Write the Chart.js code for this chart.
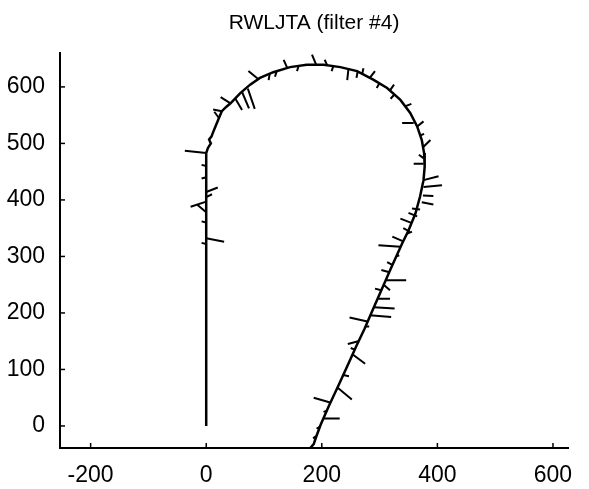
<!DOCTYPE html>
<html>
<head>
<meta charset="utf-8">
<script src="https://cdn.jsdelivr.net/npm/chart.js@4/dist/chart.umd.min.js"></script>
<style>
  html, body { margin: 0; padding: 0; background: #fff; }
  #wrap { width: 589px; height: 489px; }
</style>
</head>
<body>
<div id="wrap"><canvas id="myChart"></canvas></div>
<script>
const chartTitle = 'RWLJTA (filter #4)'
const xTicks = [-200, 0, 200, 400, 600]
const yTicks = [0, 100, 200, 300, 400, 500, 600]

// track of the filter (data units)
const pathX = [0, 0, 3, 8, 5, 9, 12, 16, 22, 27, 35, 42, 59, 76, 93, 116, 145, 174, 203, 232, 261, 289, 313, 336, 353, 365, 373, 377, 378, 376, 370, 362, 350, 339, 321, 303, 288, 274, 260, 245, 229, 212, 198, 190, 186, 180]
const pathY = [0, 483, 492, 500, 507, 512, 520, 530, 545, 557, 565, 571, 589, 604, 616, 626, 635, 639, 639, 635, 628, 613, 598, 577, 554, 530, 506, 483, 459, 435, 406, 376, 346, 323, 282, 240, 205, 172, 142, 108, 72, 35, 2, -20, -32, -39]

// little whiskers: start on the track, end at the tip
const whiskerX = [0, 0, 0, 0, 0, 0, 0, 0, 0, 0,
  27, 22, 42, 50, 62, 72, 91, 110, 122, 140, 160, 190, 209, 220, 246, 262, 270, 283, 300, 318, 326, 345,
  359, 365, 370, 376, 376, 376, 376, 376, 375, 373, 370, 365, 356, 352, 347, 340, 336,
  329, 322, 317, 311, 307, 303, 296, 290, 283, 279, 275, 263, 257, 253, 237, 227, 216, 209, 203, 198, 190]
const whiskerY = [483, 460, 440, 414, 405, 397, 378, 360, 332, 322,
  557, 545, 571, 580, 591, 597, 613, 624, 628, 634, 637, 640, 639, 637, 631, 627, 623, 616, 607, 594, 587, 566,
  536, 530, 514, 494, 464, 474, 435, 423, 408, 396, 383, 371, 359, 344, 340, 327, 317,
  300, 285, 272, 258, 250, 240, 225, 210, 196, 185, 176, 150, 135, 127, 90, 68, 41, 27, 13, 0, -18]
const whiskerTipX = [-37, -8, -8, 20, 10, -27, -16, -8, 31, -8,
  12, 14, 25, 62, 74, 84, 73, 108, 119, 134, 157, 183, 205, 217, 244, 260, 272, 292, 295, 325, 319, 355,
  339, 376, 377, 388, 359, 368, 402, 408, 393, 393, 356, 350, 336, 341, 356, 322, 298,
  334, 313, 303, 346, 318, 292, 318, 326, 320, 248, 282, 245, 250, 275, 247, 252, 186, 203, 231, 191, 185]
const whiskerTipY = [487, 462, 438, 422, 410, 388, 392, 362, 326, 324,
  560, 556, 582, 559, 562, 561, 628, 612, 618, 648, 628, 657, 648, 628, 612, 616, 633, 628, 598, 604, 579, 570,
  536, 539, 517, 506, 464, 480, 442, 426, 407, 392, 385, 377, 367, 350, 344, 335, 320,
  302, 290, 276, 258, 240, 243, 225, 208, 193, 192, 176, 145, 138, 110, 88, 47, 50, 25, 13, -5, -22]

const fontFamily = "'Liberation Sans', Arial, Helvetica, sans-serif"

const pathData = pathX.map((x, i) => ({ x: x, y: pathY[i] }))
const whiskerData = []
for (let i = 0; i < whiskerX.length; i++) {
    whiskerData.push({ x: whiskerX[i], y: whiskerY[i] })
    whiskerData.push({ x: whiskerTipX[i], y: whiskerTipY[i] })
    whiskerData.push({ x: NaN, y: NaN })
}

// matlab style ticks pointing into the plot, title centred over the axes
const matlabLook = {
    id: 'matlabLook',
    afterDraw(chart) {
        const ctx = chart.ctx
        const xs = chart.scales.x
        const ys = chart.scales.y
        ctx.save()
        ctx.strokeStyle = '#000'
        ctx.lineWidth = 1.5
        xTicks.forEach(v => {
            const px = xs.getPixelForValue(v)
            ctx.beginPath()
            ctx.moveTo(px, ys.bottom)
            ctx.lineTo(px, ys.bottom - 5)
            ctx.stroke()
        })
        yTicks.forEach(v => {
            const py = ys.getPixelForValue(v)
            ctx.beginPath()
            ctx.moveTo(xs.left, py)
            ctx.lineTo(xs.left + 5, py)
            ctx.stroke()
        })
        ctx.fillStyle = '#000'
        ctx.font = '21px ' + fontFamily
        ctx.textAlign = 'center'
        ctx.textBaseline = 'middle'
        ctx.fillText(chartTitle, (chart.chartArea.left + chart.chartArea.right) / 2, 23)
        ctx.restore()
    }
}

let ctx = document.getElementById('myChart').getContext('2d')
let myChart = new Chart(ctx, {
    type: 'scatter',
    data: {
        datasets: [{
            data: pathData,
            showLine: true,
            borderColor: '#000',
            borderWidth: 2.5,
            pointRadius: 0,
            tension: 0
        }, {
            data: whiskerData,
            showLine: true,
            spanGaps: false,
            borderColor: '#000',
            borderWidth: 2,
            pointRadius: 0,
            tension: 0
        }]
    },
    options: {
        responsive: true,
        maintainAspectRatio: false,
        animation: false,
        layout: { padding: { left: 0, right: 21, top: 53, bottom: 0 } },
        plugins: {
            legend: { display: false },
            tooltip: { enabled: false },
            title: { display: false }
        },
        scales: {
            x: {
                type: 'linear',
                min: -253,
                max: 626,
                afterBuildTicks: s => { s.ticks = xTicks.map(v => ({ value: v })) },
                afterFit: s => { s.height = 41 },
                grid: { display: false },
                border: { display: true, color: '#000', width: 2 },
                ticks: { color: '#000', padding: 6, maxRotation: 0, font: { family: fontFamily, size: 23 } }
            },
            y: {
                type: 'linear',
                min: -39,
                max: 660,
                afterBuildTicks: s => { s.ticks = yTicks.map(v => ({ value: v })) },
                afterFit: s => { s.width = 60 },
                grid: { display: false },
                border: { display: true, color: '#000', width: 2 },
                ticks: { color: '#000', padding: 7, font: { family: fontFamily, size: 23 } }
            }
        }
    },
    plugins: [matlabLook]
})
</script>
</body>
</html>
